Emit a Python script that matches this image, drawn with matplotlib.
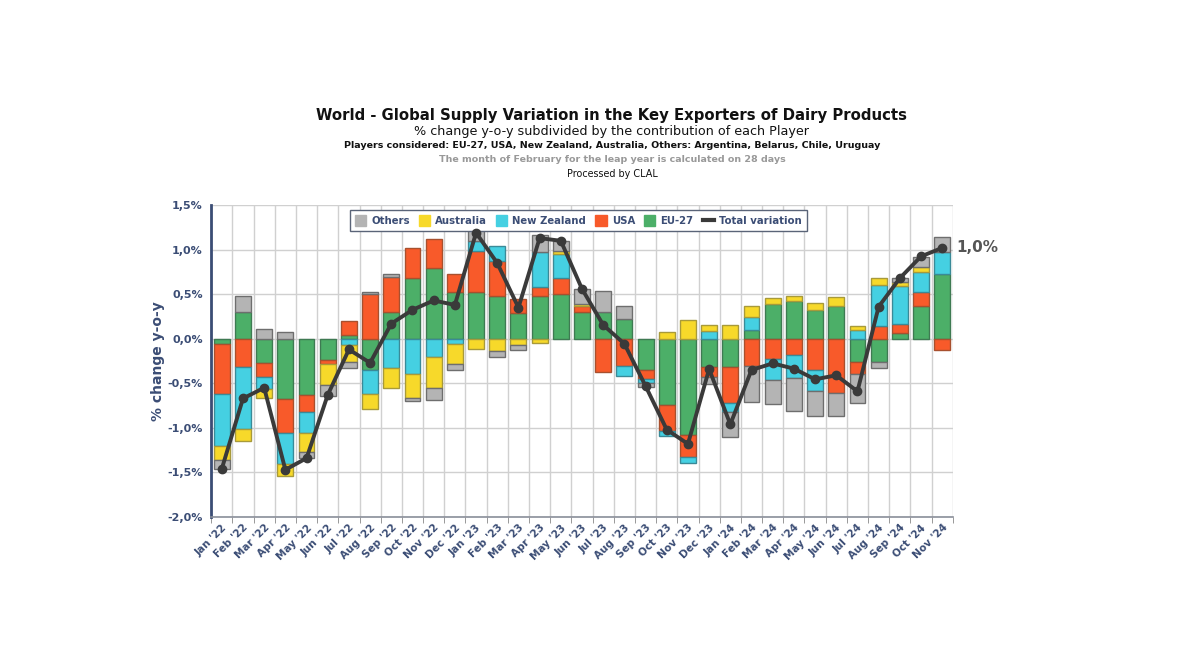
import matplotlib
matplotlib.use("Agg")
import matplotlib.pyplot as plt
from matplotlib.patches import Patch
from matplotlib.lines import Line2D
import numpy as np

months = ["Jan '22", "Feb '22", "Mar '22", "Apr '22", "May '22", "Jun '22", "Jul '22", "Aug '22",
          "Sep '22", "Oct '22", "Nov '22", "Dec '22", "Jan '23", "Feb '23", "Mar '23", "Apr '23",
          "May '23", "Jun '23", "Jul '23", "Aug '23", "Sep '23", "Oct '23", "Nov '23", "Dec '23",
          "Jan '24", "Feb '24", "Mar '24", "Apr '24", "May '24", "Jun '24", "Jul '24", "Aug '24",
          "Sep '24", "Oct '24", "Nov '24"]

eu27 = [-0.055, 0.30, -0.27, -0.68, -0.63, -0.24, 0.045, -0.355, 0.30, 0.68, 0.80, 0.53,
        0.53, 0.485, 0.29, 0.475, 0.50, 0.30, 0.30, 0.225, -0.355, -0.745, -1.08, -0.32,
        -0.32, 0.10, 0.39, 0.42, 0.325, 0.365, -0.26, -0.26, 0.06, 0.37, 0.73]
usa = [-0.56, -0.32, -0.16, -0.38, -0.19, -0.045, 0.16, 0.50, 0.39, 0.34, 0.32, 0.20,
       0.46, 0.385, 0.16, 0.105, 0.18, 0.063, -0.37, -0.305, -0.095, -0.29, -0.245, -0.11,
       -0.40, -0.30, -0.23, -0.185, -0.355, -0.61, -0.13, 0.14, 0.105, 0.15, -0.13]
new_zealand = [-0.59, -0.69, -0.13, -0.34, -0.24, 0.0, -0.07, -0.27, -0.33, -0.40, -0.20, -0.06,
               0.11, 0.175, 0.0, 0.39, 0.27, 0.0, 0.0, -0.115, -0.05, -0.055, -0.065, 0.09,
               -0.105, 0.14, -0.235, -0.25, -0.235, 0.0, 0.10, 0.465, 0.425, 0.235, 0.24]
australia = [-0.16, -0.14, -0.10, -0.14, -0.21, -0.235, -0.19, -0.16, -0.22, -0.265, -0.35, -0.22,
             -0.115, -0.135, -0.075, -0.05, 0.04, 0.026, 0.0, 0.0, 0.0, 0.075, 0.215, 0.07,
             0.15, 0.125, 0.065, 0.06, 0.08, 0.10, 0.045, 0.08, 0.05, 0.05, 0.0]
others = [-0.10, 0.18, 0.11, 0.075, -0.07, -0.12, -0.07, 0.02, 0.035, -0.035, -0.14, -0.065,
          0.20, -0.065, -0.05, 0.20, 0.105, 0.17, 0.235, 0.14, -0.045, 0.0, 0.0, -0.075,
          -0.28, -0.41, -0.27, -0.38, -0.275, -0.255, -0.335, -0.065, 0.04, 0.115, 0.17]
total = [-1.46, -0.67, -0.55, -1.47, -1.34, -0.63, -0.12, -0.27, 0.17, 0.325, 0.43, 0.38,
         1.19, 0.85, 0.35, 1.13, 1.10, 0.56, 0.155, -0.056, -0.53, -1.02, -1.18, -0.34,
         -0.96, -0.35, -0.276, -0.335, -0.455, -0.41, -0.59, 0.36, 0.68, 0.925, 1.02]

series = [("EU-27", eu27, "#4caf68", "#3e7a52"),
          ("USA", usa, "#f85a2a", "#a8502e"),
          ("New Zealand", new_zealand, "#45d0e2", "#3a8a98"),
          ("Australia", australia, "#f7d92a", "#a89a3a"),
          ("Others", others, "#b4b4b4", "#6e6e6e")]

navy = "#3b4d75"

fig = plt.figure(figsize=(12, 6.72), dpi=100)
ax = fig.add_axes([0.176, 0.2307, 0.618, 0.464])

x = np.arange(len(months))
pos_base = np.zeros(len(months))
neg_base = np.zeros(len(months))
for name, vals, col, ec in series:
    v = np.array(vals)
    base = np.where(v >= 0, pos_base, neg_base)
    mask = v != 0
    ax.bar(x[mask], v[mask], bottom=base[mask], width=0.75, color=col,
           edgecolor=ec, linewidth=1.0, zorder=3)
    pos_base = pos_base + np.where(v > 0, v, 0)
    neg_base = neg_base + np.where(v < 0, v, 0)

ax.plot(x, total, color="#3a3a3a", lw=2.8, marker="o", markersize=6, zorder=6)
ax.annotate("1,0%", xy=(x[-1], total[-1]), xytext=(10, 0), textcoords="offset points",
            ha="left", va="center", fontsize=11, fontweight="bold", color="#555555")

ax.set_xlim(-0.5, len(months) - 0.5)
ax.set_ylim(-2.0, 1.5)
yt = [-2.0, -1.5, -1.0, -0.5, 0.0, 0.5, 1.0, 1.5]
ax.set_yticks(yt)
ax.set_yticklabels([f"{t:.1f}%".replace(".", ",") for t in yt], fontsize=8,
                   fontweight="bold", color=navy)
ax.set_xticks(x)
ax.set_xticklabels(months, rotation=45, ha="right", rotation_mode="anchor",
                   fontsize=7.5, fontweight="bold", color=navy)
ax.set_xticks(np.arange(-0.5, len(months), 1), minor=True)
ax.tick_params(axis="x", which="major", length=0, pad=4)
ax.tick_params(axis="x", which="minor", length=4, color="#888888")
ax.tick_params(axis="y", length=0, pad=6)
ax.grid(True, axis="x", which="minor", color="#d0d0d0", lw=1, zorder=0)
ax.grid(True, axis="y", which="major", color="#d0d0d0", lw=1, zorder=0)
ax.set_axisbelow(True)
for s in ["top", "right"]:
    ax.spines[s].set_visible(False)
ax.spines["left"].set_color(navy)
ax.spines["left"].set_linewidth(2)
ax.spines["bottom"].set_color("#8a8f9a")
ax.spines["bottom"].set_linewidth(1.2)
ax.set_ylabel("% change y-o-y", fontsize=10, fontweight="bold", color=navy, labelpad=2)

handles = [Patch(facecolor="#b4b4b4", edgecolor="#b4b4b4", label="Others"),
           Patch(facecolor="#f7d92a", edgecolor="#f7d92a", label="Australia"),
           Patch(facecolor="#45d0e2", edgecolor="#45d0e2", label="New Zealand"),
           Patch(facecolor="#f85a2a", edgecolor="#f85a2a", label="USA"),
           Patch(facecolor="#4caf68", edgecolor="#4caf68", label="EU-27"),
           Line2D([0], [0], color="#3a3a3a", lw=3, label="Total variation")]
leg = ax.legend(handles=handles, loc="upper center", bbox_to_anchor=(0.495, 1.0), ncol=6,
                frameon=True, fancybox=False, handlelength=1.1, handleheight=1.3,
                columnspacing=0.9, handletextpad=0.5, borderpad=0.5,
                prop={"weight": "bold", "size": 7.3})
leg.get_frame().set_edgecolor("#5a6478")
leg.get_frame().set_linewidth(1)
leg.get_frame().set_alpha(1)
for t in leg.get_texts():
    t.set_color(navy)
leg.set_zorder(5)

fig.text(0.51, 0.828, "World - Global Supply Variation in the Key Exporters of Dairy Products",
         ha="center", va="center", fontsize=10.7, fontweight="bold", color="#111111")
fig.text(0.51, 0.805, "% change y-o-y subdivided by the contribution of each Player",
         ha="center", va="center", fontsize=9.2, color="#111111")
fig.text(0.51, 0.783, "Players considered: EU-27, USA, New Zealand, Australia, Others: Argentina, Belarus, Chile, Uruguay",
         ha="center", va="center", fontsize=6.8, fontweight="bold", color="#111111")
fig.text(0.51, 0.762, "The month of February for the leap year is calculated on 28 days",
         ha="center", va="center", fontsize=6.8, fontweight="bold", color="#999999")
fig.text(0.51, 0.741, "Processed by CLAL", ha="center", va="center", fontsize=6.9, color="#111111")

fig.savefig("out.png", dpi=100, facecolor="white")
